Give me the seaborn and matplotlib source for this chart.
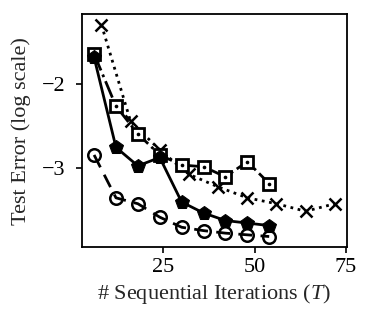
import matplotlib
matplotlib.use("Agg")
import matplotlib.pyplot as plt
import seaborn as sns
import pandas as pd

sns.set_style("white")
plt.rcParams['font.family'] = ['Liberation Serif', 'DejaVu Serif']
plt.rcParams['mathtext.fontset'] = 'custom'
plt.rcParams['mathtext.it'] = 'Liberation Serif:italic'
plt.rcParams['mathtext.rm'] = 'Liberation Serif'

x_cross = [8, 16, 24, 32, 40, 48, 56, 64, 72]
y_cross = [-1.29, -2.44, -2.78, -3.07, -3.22, -3.35, -3.42, -3.51, -3.42]

x_sq = [6, 12, 18, 24, 30, 36, 42, 48, 54]
y_sq = [-1.64, -2.26, -2.59, -2.84, -2.96, -2.98, -3.10, -2.92, -3.18]

x_pent = [6, 12, 18, 24, 30, 36, 42, 48, 54]
y_pent = [-1.68, -2.75, -2.97, -2.87, -3.40, -3.53, -3.62, -3.65, -3.68]

x_circ = [6, 12, 18, 24, 30, 36, 42, 48, 54]
y_circ = [-2.84, -3.35, -3.42, -3.58, -3.70, -3.74, -3.77, -3.79, -3.81]

xticks = [25, 50, 75]
yticks = [-2, -3]

fig = plt.figure(figsize=(3.73, 3.26), dpi=100)
ax = fig.add_axes([0.22, 0.242, 0.71, 0.715])

lw = 2.0
sns.lineplot(x=x_cross, y=y_cross, ax=ax, color='black', linestyle=':', linewidth=lw,
             marker='x', markersize=9, markeredgewidth=1.8, markeredgecolor='black')
sns.lineplot(x=x_sq, y=y_sq, ax=ax, color='black', linestyle='-.', linewidth=lw,
             marker='s', markersize=9, markerfacecolor='white', markeredgewidth=2.0,
             markeredgecolor='black')
sns.scatterplot(x=x_sq, y=y_sq, ax=ax, color='black', s=7, marker='o', linewidth=0, zorder=5)
sns.lineplot(x=x_pent, y=y_pent, ax=ax, color='black', linestyle='-', linewidth=lw,
             marker='p', markersize=10, markerfacecolor='black', markeredgecolor='black')
sns.lineplot(x=x_circ, y=y_circ, ax=ax, color='black', linestyle=(0, (5, 3)), linewidth=lw,
             marker='o', markersize=9, markerfacecolor='none', markeredgewidth=1.8,
             markeredgecolor='black')

ax.set_xticks(xticks)
ax.set_yticks(yticks)
ax.set_yticklabels(['\u22122', '\u22123'])
ax.tick_params(axis='both', direction='out', length=4, width=1.2, labelsize=16,
               bottom=True, left=True, colors='black')
ax.tick_params(axis='y', pad=8)
for s in ax.spines.values():
    s.set_color('black')
    s.set_linewidth(1.3)
ax.set_xlabel('# Sequential Iterations ($T$)', fontsize=16)
ax.set_ylabel('Test Error (log scale)', fontsize=16, labelpad=8)

fig.savefig('out.png', dpi=100)
